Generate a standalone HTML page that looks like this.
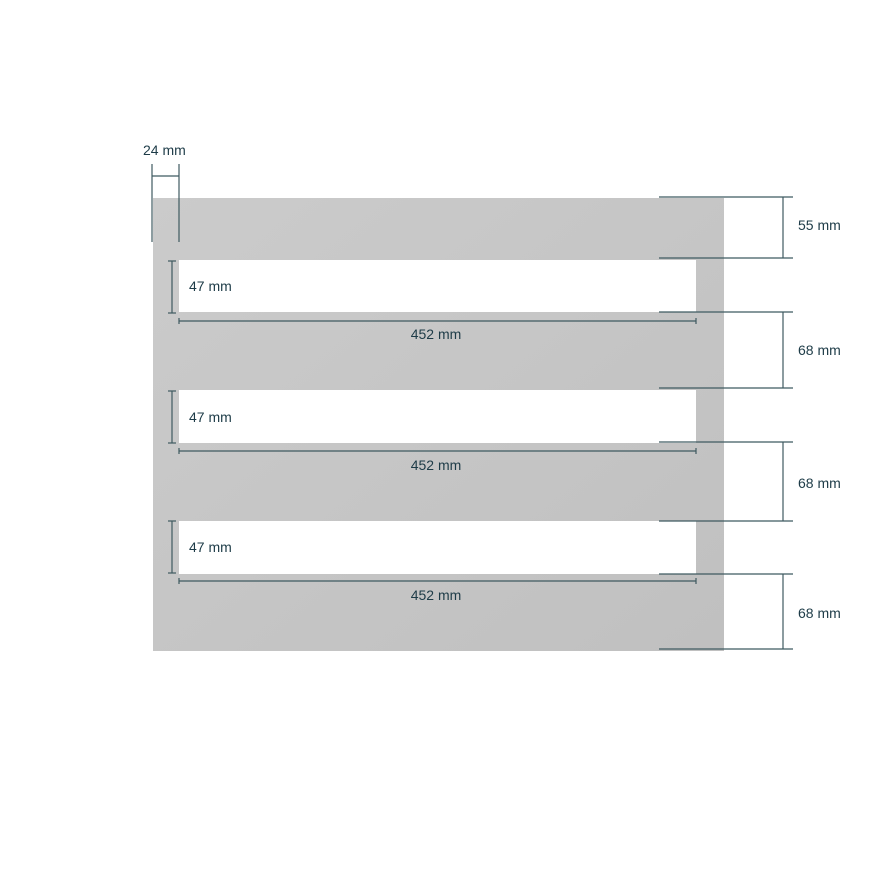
<!DOCTYPE html>
<html><head><style>
body{margin:0;background:#fff}
text{font-family:"Liberation Sans",sans-serif;font-size:14px;fill:#1d3b47}
</style></head><body>
<svg width="876" height="876" xmlns="http://www.w3.org/2000/svg">
<defs><linearGradient id="g" x1="0" y1="0" x2="1" y2="1"><stop offset="0" stop-color="#cbcbcb"/><stop offset="1" stop-color="#c0c0c0"/></linearGradient></defs>
<rect x="153" y="198" width="571" height="453" fill="url(#g)"/>
<rect x="179" y="260" width="517" height="52" fill="#fff"/>
<rect x="179" y="390" width="517" height="53" fill="#fff"/>
<rect x="179" y="521" width="517" height="53" fill="#fff"/>
<g stroke="#3f5a60" stroke-width="1.2" fill="none">
<line x1="152" y1="164" x2="152" y2="242"/><line x1="179" y1="164" x2="179" y2="242"/><line x1="152" y1="176" x2="179" y2="176"/>
<line x1="659" y1="197" x2="793" y2="197"/><line x1="659" y1="258" x2="793" y2="258"/>
<line x1="659" y1="312" x2="793" y2="312"/><line x1="659" y1="388" x2="793" y2="388"/>
<line x1="659" y1="442" x2="793" y2="442"/><line x1="659" y1="521" x2="793" y2="521"/>
<line x1="659" y1="574" x2="793" y2="574"/><line x1="659" y1="649" x2="793" y2="649"/>
<line x1="783" y1="197" x2="783" y2="258"/><line x1="783" y1="312" x2="783" y2="388"/>
<line x1="783" y1="442" x2="783" y2="521"/><line x1="783" y1="574" x2="783" y2="649"/>
<g id="s">
<line x1="172" y1="261" x2="172" y2="313"/><line x1="168" y1="261" x2="176" y2="261"/><line x1="168" y1="313" x2="176" y2="313"/>
<line x1="179" y1="321" x2="696" y2="321"/><line x1="179" y1="318" x2="179" y2="324"/><line x1="696" y1="318" x2="696" y2="324"/>
</g>
<use href="#s" y="130"/><use href="#s" y="260"/>
</g>
<text x="143" y="155">24 mm</text>
<text x="798" y="230">55 mm</text>
<text x="798" y="355">68 mm</text>
<text x="798" y="488">68 mm</text>
<text x="798" y="618">68 mm</text>
<text x="189" y="291">47 mm</text><text x="189" y="422">47 mm</text><text x="189" y="552">47 mm</text>
<text x="436" y="339" text-anchor="middle">452 mm</text>
<text x="436" y="470" text-anchor="middle">452 mm</text>
<text x="436" y="600" text-anchor="middle">452 mm</text>
</svg>
</body></html>
